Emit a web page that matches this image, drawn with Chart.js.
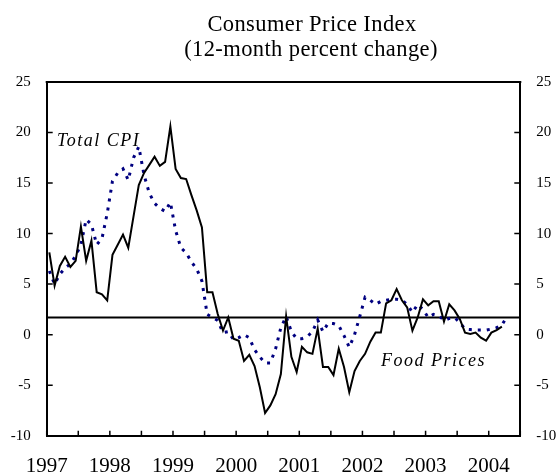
<!DOCTYPE html>
<html lang="en">
<head>
  <meta charset="UTF-8" />
  <title>Consumer Price Index</title>
  <script src="https://cdn.jsdelivr.net/npm/chart.js"></script>
  <style>
    html, body { margin: 0; padding: 0; background: #fff; }
    #wrap { width: 558px; height: 476px; }
  </style>
</head>
<body>
  <div id="wrap"><canvas id="cpiChart" width="558" height="476"></canvas></div>

  <script>
    // monthly data, Jan 1997 onwards (12-month % change)
    const startYear = 1997;
    const foodPrices = [
      8.15, 4.85, 6.8, 7.7, 6.7, 7.3, 10.7, 7.3, 9.3, 4.2, 4.0, 3.4,
      7.9, 8.9, 9.9, 8.6, 11.7, 14.8, 16.0, 16.8, 17.6, 16.7, 17.1, 20.6,
      16.4, 15.5, 15.4, 13.8, 12.3, 10.6, 4.2, 4.2, 2.05, 0.4, 1.7, -0.4,
      -0.6, -2.6, -2.0, -3.1, -5.2, -7.75, -7.0, -5.9, -3.9, 1.8, -2.2, -3.7,
      -1.2, -1.75, -1.9, 0.6, -3.2, -3.2, -4.0, -1.4, -3.2, -5.7, -3.6, -2.6,
      -1.9, -0.7, 0.2, 0.2, 3.1, 3.4, 4.5, 3.4, 2.7, 0.4, 1.7, 3.5,
      2.9, 3.3, 3.3, 1.3, 3.0, 2.4, 1.55, 0.2, 0.07, 0.2, -0.3, -0.6,
      0.2, 0.45, 0.8
    ];
    const totalCpi = [
      6.3, 5.0, 6.0, 6.6, 7.0, 7.8, 8.9, 11.4, 10.9, 8.9, 9.5, 12.0,
      15.2, 16.0, 16.4, 15.3, 17.5, 18.6, 15.8, 14.0, 13.0, 12.5, 12.2, 13.1,
      10.3, 8.6, 8.1, 7.2, 6.5, 5.3, 2.0, 1.7, 1.4, 0.2, 0.3, -0.5,
      -0.3, 0.0, -0.3, -1.5, -2.2, -2.8, -2.8, -1.4, 0.7, 1.8, 0.3, -0.4,
      -0.4, -0.2, 0.3, 1.45, 0.3, 1.15, 1.1, 0.9, -0.1, -1.25, 0.0, 1.8,
      3.7, 3.4, 3.0, 3.3, 3.4, 3.5, 3.5, 3.4, 3.0, 2.2, 3.0, 2.5,
      1.7, 2.0, 1.9, 1.4, 1.6, 1.7, 1.2, 0.55, 0.5, 0.45, 0.45, 0.45,
      0.55, 0.7, 0.95, 1.8
    ];
    const refLevel = 1.7;
    const yTicks = [-10, -5, 0, 5, 10, 15, 20, 25];
    const titleLines = ['Consumer Price Index', '(12-month percent change)'];

    const serif = '"Liberation Serif", "Times New Roman", serif';
    const monthsShown = 90;

    // points sit in the middle of each month slot
    const toPoints = arr => arr.map((v, i) => ({ x: i + 0.5, y: v }));

    // frame, inward tick marks and text labels
    const decorations = {
      id: 'decorations',
      afterDraw(chart) {
        const { ctx, chartArea: a, scales } = chart;
        ctx.save();
        ctx.strokeStyle = '#000';
        ctx.lineWidth = 2;
        ctx.beginPath();
        ctx.moveTo(a.left - 1, a.top);
        ctx.lineTo(a.right + 1, a.top);
        ctx.stroke();

        ctx.lineWidth = 1.5;
        ctx.beginPath();
        scales.x.ticks.forEach(t => {
          const px = scales.x.getPixelForValue(t.value);
          ctx.moveTo(px, a.bottom);
          ctx.lineTo(px, a.bottom - 5);
        });
        scales.y.ticks.forEach(t => {
          const py = scales.y.getPixelForValue(t.value);
          ctx.moveTo(a.left, py);
          ctx.lineTo(a.left + 6, py);
        });
        scales.y2.ticks.forEach(t => {
          const py = scales.y2.getPixelForValue(t.value);
          ctx.moveTo(a.right, py);
          ctx.lineTo(a.right - 6, py);
        });
        ctx.stroke();

        ctx.fillStyle = '#000';
        ctx.textAlign = 'center';
        ctx.textBaseline = 'alphabetic';
        ctx.font = '22.5px ' + serif;
        ctx.letterSpacing = '0.4px';
        ctx.fillText(titleLines[0], 312, 31);
        ctx.fillText(titleLines[1], 311, 56);

        ctx.textAlign = 'left';
        ctx.font = 'italic 18px ' + serif;
        ctx.letterSpacing = '1.5px';
        ctx.fillText('Total CPI', 57, 146);
        ctx.fillText('Food Prices', 381, 366);
        ctx.letterSpacing = '0px';
        ctx.restore();
      }
    };

    const yScale = (position, width) => ({
      type: 'linear',
      position,
      min: -10,
      max: 25,
      afterBuildTicks: s => { s.ticks = yTicks.map(v => ({ value: v })); },
      afterFit: s => { s.width = width; },
      grid: { display: true, drawOnChartArea: false, drawTicks: false },
      border: { display: true, color: '#000', width: 2 },
      ticks: {
        padding: 16,
        color: '#000',
        font: { family: serif, size: 15 }
      }
    });

    new Chart(document.getElementById('cpiChart'), {
      type: 'line',
      data: {
        datasets: [
          {
            label: 'Food Prices',
            data: toPoints(foodPrices),
            borderColor: '#000',
            borderWidth: 2,
            pointRadius: 0,
            tension: 0
          },
          {
            label: 'Total CPI',
            data: toPoints(totalCpi),
            borderColor: '#000080',
            borderWidth: 3,
            borderDash: [3, 6],
            pointRadius: 0,
            tension: 0
          },
          {
            label: 'reference',
            data: [{ x: 0, y: refLevel }, { x: monthsShown, y: refLevel }],
            borderColor: '#000',
            borderWidth: 2,
            pointRadius: 0
          }
        ]
      },
      options: {
        responsive: false,
        animation: false,
        layout: { padding: { top: 82 } },
        plugins: { legend: { display: false }, tooltip: { enabled: false } },
        scales: {
          x: {
            type: 'linear',
            min: 0,
            max: monthsShown,
            afterFit: s => { s.height = 40.3; },
            grid: { display: true, drawOnChartArea: false, drawTicks: false },
            border: { display: true, color: '#000', width: 2 },
            ticks: {
              stepSize: 6,
              autoSkip: false,
              maxRotation: 0,
              padding: 18,
              color: '#000',
              font: { family: serif, size: 21 },
              callback: v => (v % 12 === 0 ? String(startYear + v / 12) : '')
            }
          },
          y: yScale('left', 46.7),
          y2: yScale('right', 37.7)
        }
      },
      plugins: [decorations]
    });
  </script>
</body>
</html>
